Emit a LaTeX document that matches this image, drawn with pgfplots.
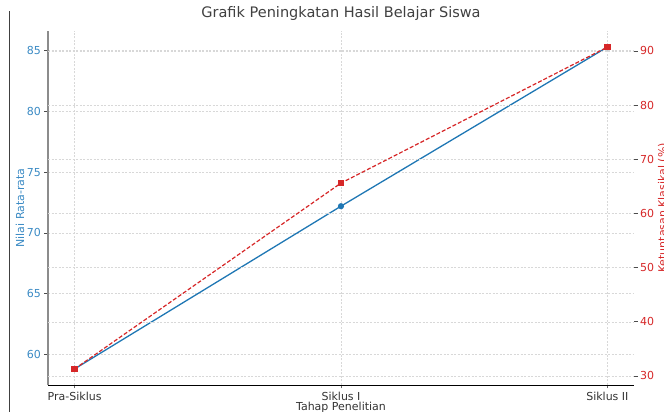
\documentclass[border=0pt]{standalone}
\usepackage{fontspec}
\setmainfont{DejaVu Sans}
\usepackage{pgfplots}
\pgfplotsset{compat=1.18}
\definecolor{mblue}{HTML}{1F77B4}
\definecolor{mbluet}{HTML}{3A8AC4}
\definecolor{mred}{HTML}{D62728}
\definecolor{gridc}{HTML}{D8D8D8}
\begin{document}
\begin{tikzpicture}[x=1pt,y=1pt]
\useasboundingbox (0,0) rectangle (664,412);
\draw[color=black!75, line width=0.9pt] (9.5,0) -- (9.5,401);
\begin{axis}[
  at={(48pt,27pt)}, anchor=south west,
  scale only axis, width=586pt, height=354pt,
  xmin=-0.1, xmax=2.1, ymin=57.475, ymax=86.625,
  xtick={0,1,2}, xticklabels={Pra-Siklus,Siklus I,Siklus II},
  ytick={60,65,70,75,80,85},
  axis x line*=bottom, axis y line*=left,
  x axis line style={black, line width=0.8pt, -},
  y axis line style={black!45, line width=1.2pt, -},
  tick align=outside, major tick length=3.5pt,
  xtick style={black!60, line width=0.6pt},
  ytick style={black!70, line width=0.6pt},
  tick label style={font=\fontsize{11}{13}\selectfont},
  /pgf/number format/assume math mode=true,
  xticklabel style={text=black!80},
  yticklabel style={text=mbluet},
  grid=major,
  major grid style={gridc, dash pattern=on 2pt off 1.5pt, line width=0.5pt},
  xlabel={Tahap Penelitian},
  xlabel style={at={(axis description cs:0.5,-0.0734)}, anchor=base, font=\fontsize{11}{13}\selectfont, text=black!80},
  ylabel={Nilai Rata-rata},
  ylabel style={at={(axis description cs:-0.0478,0.5)}, anchor=center, font=\fontsize{11}{13}\selectfont, text=mbluet},
  title={Grafik Peningkatan Hasil Belajar Siswa},
  title style={at={(axis description cs:0.5,1.0198)}, anchor=base, font=\fontsize{14.5}{17}\selectfont, text=black!75},
]
\addplot[mblue, line width=1.3pt, mark=*, mark size=2.4pt, mark options={solid, fill=mblue, draw=mblue}]
  coordinates {(0,58.8) (1,72.2) (2,85.3)};
\end{axis}
\begin{axis}[
  at={(48pt,27pt)}, anchor=south west,
  scale only axis, width=586pt, height=354pt,
  xmin=-0.1, xmax=2.1, ymin=28.33, ymax=93.67,
  xtick=\empty,
  ytick={30,40,50,60,70,80,90},
  axis x line=none, axis y line*=right,
  y axis line style={draw=none},
  tick align=outside, major tick length=3.5pt,
  ytick style={black!70, line width=0.6pt},
  tick label style={font=\fontsize{11}{13}\selectfont},
  yticklabel style={text=mred, xshift=-1pt},
  /pgf/number format/assume math mode=true,
  ymajorgrids,
  major grid style={gridc, dash pattern=on 2pt off 1.5pt, line width=0.5pt},
  ylabel={Ketuntasan Klasikal (\%)},
  ylabel style={at={(axis description cs:1.0495,0.5)}, anchor=center, font=\fontsize{11}{13}\selectfont, text=mred},
]
\addplot[mred, line width=1.2pt, dash pattern=on 4pt off 2pt, mark=square*, mark size=2.6pt, mark options={solid, fill=mred, draw=mred}]
  coordinates {(0,31.3) (1,65.6) (2,90.7)};
\end{axis}
\end{tikzpicture}
\end{document}
